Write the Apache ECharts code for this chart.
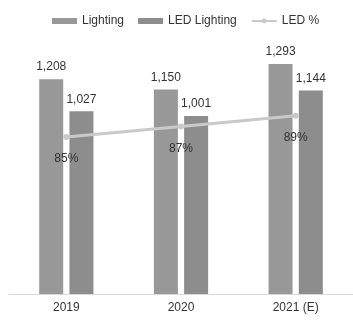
<!DOCTYPE html>
<html>
<head>
<meta charset="utf-8">
<script src="https://cdn.jsdelivr.net/npm/echarts@6/dist/echarts.min.js"></script>
<style>
    html, body { margin: 0; padding: 0; background: #fff; }
    #chart { width: 353px; height: 320px; }
</style>
</head>
<body>
<div id="chart"></div>
<script>
    // 数据
    var years = ['2019', '2020', '2021 (E)'];
    var lighting = [1208, 1150, 1293];
    var ledLighting = [1027, 1001, 1144];
    var ledShare = [85, 87, 89];

    var fontFamily = '"Liberation Sans", Arial, sans-serif';
    var myChart = echarts.init(document.getElementById('chart'));

    myChart.setOption({
        animation: false,
        textStyle: { fontFamily: fontFamily },
        legend: {
            left: 47,
            top: 10,
            itemWidth: 25,
            itemHeight: 6,
            itemGap: 14,
            textStyle: { fontSize: 12, color: '#333', fontFamily: fontFamily },
            data: [
                { name: 'Lighting', icon: 'rect' },
                { name: 'LED Lighting', icon: 'rect' },
                { name: 'LED %' }
            ]
        },
        grid: { left: 9, width: 349, top: 45, bottom: 26 },
        xAxis: {
            type: 'category',
            data: years,
            axisTick: { show: false },
            axisLine: { lineStyle: { color: '#d9d9d9', width: 1 } },
            axisLabel: { color: '#333', fontSize: 12, margin: 8 }
        },
        yAxis: [
            { type: 'value', min: 0, max: 1400, show: false, splitLine: { show: false } },
            { type: 'value', min: 55.5, max: 102.3, show: false, splitLine: { show: false } }
        ],
        series: [
            {
                name: 'Lighting',
                type: 'bar',
                data: lighting,
                barWidth: 24,
                barGap: '26%',
                itemStyle: { color: '#989898' },
                label: {
                    show: true, position: 'top', distance: 6,
                    color: '#333', fontSize: 12,
                    formatter: function (p) { return p.value.toLocaleString('en-US'); }
                }
            },
            {
                name: 'LED Lighting',
                type: 'bar',
                data: ledLighting,
                barWidth: 24,
                itemStyle: { color: '#8d8d8d' },
                label: {
                    show: true, position: 'top', distance: 6,
                    color: '#333', fontSize: 12,
                    formatter: function (p) { return p.value.toLocaleString('en-US'); }
                }
            },
            {
                name: 'LED %',
                type: 'line',
                yAxisIndex: 1,
                data: ledShare,
                symbol: 'circle',
                symbolSize: 6,
                lineStyle: { color: '#c9c9c9', width: 3 },
                itemStyle: { color: '#c9c9c9' },
                label: {
                    show: true, position: 'bottom', distance: 13,
                    color: '#333', fontSize: 12,
                    formatter: '{c}%'
                },
                z: 5
            }
        ]
    });
</script>
</body>
</html>
